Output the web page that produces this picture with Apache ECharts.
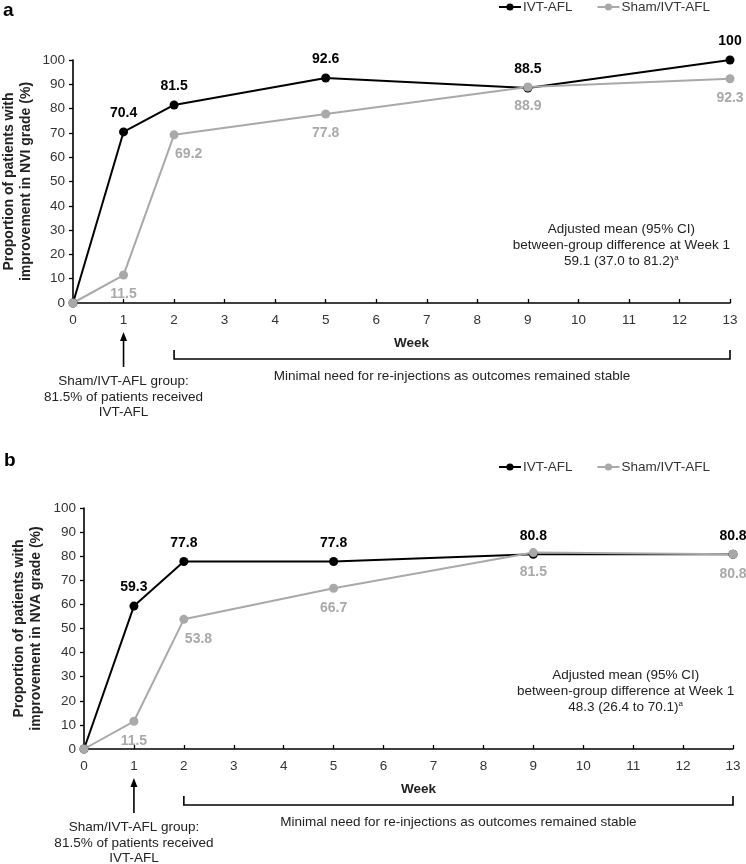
<!DOCTYPE html>
<html>
<head>
<meta charset="utf-8">
<script src="https://cdn.jsdelivr.net/npm/echarts@6/dist/echarts.min.js"></script>
<style>
html,body{margin:0;padding:0;background:#fff;}
#c{width:746px;height:864px;}
</style>
</head>
<body>
<div id="c"></div>
<script>
// ---- data ----
const weeks = [0, 1, 2, 5, 9, 13];
const ivtA  = [0, 70.4, 81.5, 92.6, 88.5, 100];
const shamA = [0, 11.5, 69.2, 77.8, 88.9, 92.3];
const ivtB  = [0, 59.3, 77.8, 77.8, 80.8, 80.8];
const shamB = [0, 11.5, 53.8, 66.7, 81.5, 80.8];
const seriesNames = ['IVT-AFL', 'Sham/IVT-AFL'];
const yNameA = 'Proportion of patients with\nimprovement in NVI grade (%)';
const yNameB = 'Proportion of patients with\nimprovement in NVA grade (%)';
const xName = 'Week';
const noteA = ['Adjusted mean (95% CI)', 'between-group difference at Week 1', '59.1 (37.0 to 81.2)'];
const noteB = ['Adjusted mean (95% CI)', 'between-group difference at Week 1', '48.3 (26.4 to 70.1)'];
const shamNote = 'Sham/IVT-AFL group:\n81.5% of patients received\nIVT-AFL';
const bracketNote = 'Minimal need for re-injections as outcomes remained stable';

const FONT = '"Liberation Sans", Arial, sans-serif';
const BLACK = '#000000';
const GRAY = '#a9a9a9';
const TXT = '#222222';

function pts(vals, isSham) {
  return weeks.map((w, i) => {
    const item = {value: [w, vals[i]], label: {show: i > 0}};
    if (isSham && i === 2) { item.label.align = 'left'; item.label.offset = [1, 0]; }
    return item;
  });
}

function xAxis(gi) {
  return {
    type: 'value', gridIndex: gi, min: 0, max: 13, interval: 1,
    axisLine: {lineStyle: {color: BLACK, width: 1.6}},
    axisTick: {inside: true, length: 4, lineStyle: {color: BLACK, width: 1.3}},
    axisLabel: {color: '#333', fontSize: 13.5, fontFamily: FONT, margin: 10},
    splitLine: {show: false},
    name: xName, nameLocation: 'middle', nameGap: 33,
    nameTextStyle: {fontWeight: 'bold', fontSize: 13.5, fontFamily: FONT, color: TXT, padding: [0, 0, 0, 20]}
  };
}
function yAxis(gi, name, gap) {
  return {
    type: 'value', gridIndex: gi, min: 0, max: 100, interval: 10,
    axisLine: {show: true, lineStyle: {color: BLACK, width: 1.6}},
    axisTick: {show: true, length: 4, lineStyle: {color: BLACK, width: 1.3}},
    axisLabel: {color: '#333', fontSize: 13.5, fontFamily: FONT, margin: 8},
    splitLine: {show: false},
    name: name, nameLocation: 'middle', nameRotate: 90, nameGap: gap, nameMoveOverlap: false,
    nameTextStyle: {fontWeight: 'bold', fontSize: 14, fontFamily: FONT, color: TXT, lineHeight: 17, align: 'center'}
  };
}
function line(name, gi, vals, color, labelPos, isSham) {
  return {
    name: name, type: 'line', xAxisIndex: gi, yAxisIndex: gi,
    data: pts(vals, isSham), symbol: 'circle', symbolSize: 9,
    lineStyle: {color: color, width: 2}, itemStyle: {color: color},
    label: {position: labelPos, distance: labelPos === 'top' ? 7 : 8, color: color,
      fontWeight: 'bold', fontSize: 14, fontFamily: FONT,
      formatter: p => String(p.value[1])},
    emphasis: {disabled: true}, animation: false
  };
}
function legend(top) {
  return {
    right: 36, top: top, padding: 0, itemWidth: 22, itemHeight: 9, itemGap: 24,
    textStyle: {fontSize: 13.5, fontFamily: FONT, color: '#333', padding: [0, 0, 0, -3]},
    data: seriesNames
  };
}

const chart = echarts.init(document.getElementById('c'), null, {renderer: 'canvas'});
chart.setOption({
  animation: false,
  backgroundColor: '#fff',
  legend: [legend(0), legend(460)],
  grid: [
    {left: 73, right: 16, top: 60, height: 243, containLabel: false, outerBoundsMode: 'none'},
    {left: 84, right: 13, top: 508, height: 241, containLabel: false, outerBoundsMode: 'none'}
  ],
  xAxis: [xAxis(0), xAxis(1)],
  yAxis: [yAxis(0, yNameA, 38), yAxis(1, yNameB, 39)],
  series: [
    line(seriesNames[0], 0, ivtA, BLACK, 'top', false),
    line(seriesNames[1], 0, shamA, GRAY, 'bottom', true),
    line(seriesNames[0], 1, ivtB, BLACK, 'top', false),
    line(seriesNames[1], 1, shamB, GRAY, 'bottom', true)
  ]
});

function px(gi, x, y) { return chart.convertToPixel({gridIndex: gi}, [x, y]); }

function panelGraphics(gi, note) {
  const g = [];
  const o = px(gi, 0, 0);
  const axisY = o[1];
  const p1 = px(gi, 1, 0)[0];
  const p2 = px(gi, 2, 0)[0];
  const p13 = px(gi, 13, 0)[0];
  // arrow
  g.push({type: 'line', shape: {x1: p1, y1: axisY + 64, x2: p1, y2: axisY + 36},
    style: {stroke: BLACK, lineWidth: 1.6}});
  g.push({type: 'polygon', shape: {points: [[p1, axisY + 29], [p1 - 3.5, axisY + 38], [p1 + 3.5, axisY + 38]]},
    style: {fill: BLACK}});
  // sham note
  g.push({type: 'text', style: {text: shamNote, x: p1, y: axisY + 71, align: 'center', verticalAlign: 'top',
    fontSize: 13.5, fontFamily: FONT, fill: TXT, lineHeight: 15.5}});
  // bracket
  g.push({type: 'polyline', shape: {points: [[p2, axisY + 47], [p2, axisY + 56], [p13, axisY + 56], [p13, axisY + 47]]},
    style: {stroke: BLACK, lineWidth: 1.6, fill: null}});
  g.push({type: 'text', style: {text: bracketNote, x: (p2 + p13) / 2, y: axisY + 66, align: 'center', verticalAlign: 'top',
    fontSize: 13.5, fontFamily: FONT, fill: TXT}});
  // note
  const nx = px(gi, 10.85, 0)[0];
  g.push({type: 'text', style: {
    text: note[0] + '\n' + note[1] + '\n' + note[2] + '{sup|a}',
    x: nx, y: axisY - 82, align: 'center', verticalAlign: 'top',
    fontSize: 13.5, fontFamily: FONT, fill: TXT, lineHeight: 16,
    rich: {sup: {fontSize: 8, fontFamily: FONT, fill: TXT, padding: [0, 0, 7, 0], lineHeight: 16}}
  }});
  return g;
}

const graphics = [
  {type: 'text', style: {text: 'a', x: 3, y: 1, fontSize: 19, fontWeight: 'bold', fontFamily: FONT, fill: BLACK}},
  {type: 'text', style: {text: 'b', x: 4, y: 451, fontSize: 19, fontWeight: 'bold', fontFamily: FONT, fill: BLACK}}
].concat(panelGraphics(0, noteA), panelGraphics(1, noteB));

chart.setOption({graphic: graphics});
</script>
</body>
</html>
